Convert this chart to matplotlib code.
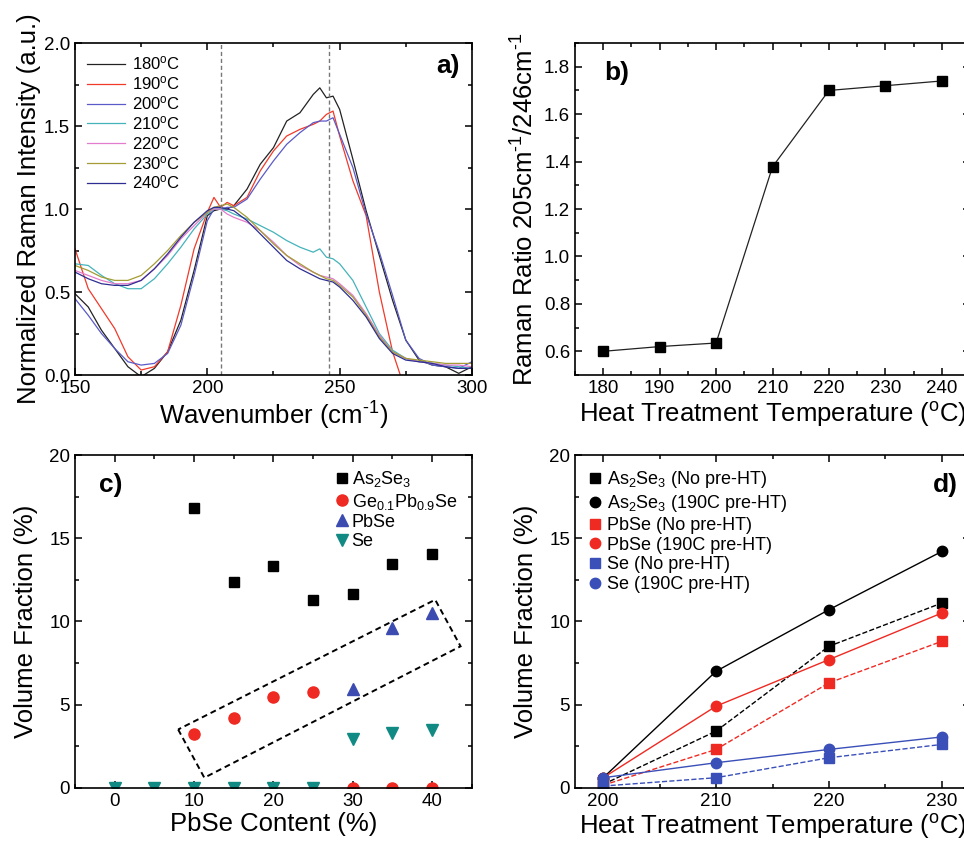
import numpy as np
import matplotlib
matplotlib.use("Agg")
import matplotlib.pyplot as plt
from matplotlib.ticker import MultipleLocator, FormatStrFormatter
from matplotlib.lines import Line2D
from matplotlib.patches import Polygon

plt.rcParams["font.family"] = ["Liberation Sans", "DejaVu Sans"]
plt.rcParams["mathtext.fontset"] = "custom"
plt.rcParams["mathtext.rm"] = "Liberation Sans"
plt.rcParams["mathtext.it"] = "Liberation Sans:italic"

DEG = r"$^{\mathregular{o}}$"
INV_CM = r"cm$^{\text{-1}}$"

# ---- panel a: Raman spectra ----
wavenumber = [150, 155, 160, 165, 170, 175, 180, 185, 190, 195, 200, 202.5,
              205, 207.5, 210, 215, 220, 225, 230, 235, 240, 242.5, 245, 247.5,
              250, 255, 260, 265, 270, 275, 280, 285, 290, 295, 300]
spec_180 = [0.49, 0.41, 0.27, 0.16, 0.05, -0.01, 0.04, 0.14, 0.33, 0.63, 0.96, 0.99,
            1.00, 1.00, 1.02, 1.12, 1.27, 1.37, 1.53, 1.58, 1.69, 1.73, 1.67, 1.68,
            1.60, 1.30, 0.99, 0.72, 0.45, 0.21, 0.09, 0.06, 0.05, 0.01, 0.05]
spec_190 = [0.76, 0.52, 0.40, 0.28, 0.11, 0.03, 0.05, 0.14, 0.42, 0.76, 0.98, 1.07,
            1.01, 1.04, 1.02, 1.07, 1.23, 1.35, 1.44, 1.48, 1.51, 1.53, 1.57, 1.59,
            1.44, 1.17, 0.96, 0.50, 0.14, -0.10, np.nan, np.nan, np.nan, np.nan, np.nan]
spec_200 = [0.46, 0.36, 0.25, 0.16, 0.08, 0.06, 0.07, 0.13, 0.30, 0.60, 0.93, 1.00,
            1.00, 1.01, 1.01, 1.06, 1.18, 1.29, 1.39, 1.46, 1.52, 1.53, 1.53, 1.55,
            1.45, 1.25, 0.97, 0.74, 0.48, 0.21, 0.10, 0.06, 0.05, 0.04, 0.08]
spec_210 = [0.67, 0.66, 0.60, 0.55, 0.52, 0.52, 0.58, 0.67, 0.77, 0.88, 0.97, 1.00,
            1.00, 0.99, 0.97, 0.94, 0.90, 0.86, 0.81, 0.77, 0.74, 0.76, 0.71, 0.70,
            0.67, 0.57, 0.41, 0.25, 0.15, 0.10, 0.08, 0.07, 0.06, 0.05, 0.04]
spec_220 = [0.63, 0.60, 0.57, 0.55, 0.55, 0.57, 0.64, 0.72, 0.82, 0.90, 0.98, 1.00,
            1.00, 0.97, 0.95, 0.92, 0.87, 0.80, 0.72, 0.66, 0.62, 0.60, 0.59, 0.58,
            0.55, 0.48, 0.37, 0.24, 0.14, 0.10, 0.08, 0.07, 0.06, 0.06, 0.05]
spec_230 = [0.66, 0.63, 0.59, 0.57, 0.57, 0.60, 0.67, 0.75, 0.84, 0.92, 0.98, 1.01,
            1.02, 1.03, 1.01, 0.95, 0.87, 0.79, 0.72, 0.67, 0.62, 0.60, 0.58, 0.57,
            0.54, 0.47, 0.36, 0.23, 0.14, 0.10, 0.09, 0.08, 0.07, 0.07, 0.07]
spec_240 = [0.62, 0.58, 0.55, 0.54, 0.54, 0.57, 0.64, 0.73, 0.83, 0.92, 0.99, 1.01,
            1.01, 1.00, 0.99, 0.93, 0.85, 0.77, 0.69, 0.64, 0.60, 0.58, 0.57, 0.56,
            0.53, 0.45, 0.35, 0.22, 0.13, 0.09, 0.08, 0.07, 0.05, 0.04, 0.04]
spec_labels = ["180", "190", "200", "210", "220", "230", "240"]
spec_colors = ["#222222", "#f03a2a", "#5a5ac8", "#45b3bb", "#e27ccc", "#a49c34", "#2e2e92"]
marker_lines = [205, 246]

# ---- panel b: Raman ratio ----
ratio_temp = [180, 190, 200, 210, 220, 230, 240]
ratio_val = [0.60, 0.62, 0.635, 1.378, 1.70, 1.72, 1.74]

# ---- panel c: volume fraction vs PbSe content ----
as2se3_x = [10, 15, 20, 25, 30, 35, 40]
as2se3_y = [16.8, 12.35, 13.35, 11.3, 11.65, 13.45, 14.05]
gepbse_x = [10, 15, 20, 25, 30, 35, 40]
gepbse_y = [3.25, 4.2, 5.45, 5.75, 0, 0, 0]
pbse_x = [0, 5, 10, 15, 20, 25, 30, 35, 40]
pbse_y = [0, 0, 0, 0, 0, 0, 5.95, 9.6, 10.5]
se_x = [0, 5, 10, 15, 20, 25, 30, 35, 40]
se_y = [0, 0, 0, 0, 0, 0, 2.9, 3.3, 3.45]
box_corners = [(8.0, 3.5), (11.3, 0.6), (43.6, 8.5), (40.4, 11.3)]

# ---- panel d: volume fraction vs heat treatment ----
ht_temp = [200, 210, 220, 230]
as2se3_nopre = [0.2, 3.4, 8.5, 11.1]
as2se3_pre = [0.6, 7.0, 10.7, 14.2]
pbse_nopre = [0.15, 2.3, 6.3, 8.8]
pbse_pre = [0.6, 4.9, 7.7, 10.5]
se_nopre = [0.1, 0.6, 1.8, 2.6]
se_pre = [0.6, 1.5, 2.3, 3.05]

TICK = 13.5
LABEL = 18.5


def style(ax, xmaj, xmin, ymaj, ymin):
    ax.xaxis.set_major_locator(MultipleLocator(xmaj))
    ax.xaxis.set_minor_locator(MultipleLocator(xmin))
    ax.yaxis.set_major_locator(MultipleLocator(ymaj))
    ax.yaxis.set_minor_locator(MultipleLocator(ymin))
    ax.tick_params(which="both", direction="in", top=True, right=True,
                   width=1.1, labelsize=TICK)
    ax.tick_params(which="major", length=5)
    ax.tick_params(which="minor", length=3)
    for s in ax.spines.values():
        s.set_linewidth(1.2)


fig = plt.figure(figsize=(9.64, 8.42), dpi=100)

# a)
ax = fig.add_axes([0.0778, 0.5546, 0.4118, 0.3943])
specs = [spec_180, spec_190, spec_200, spec_210, spec_220, spec_230, spec_240]
for s, lab, c in zip(specs, spec_labels, spec_colors):
    ax.plot(wavenumber, s, color=c, lw=0.9, label=lab + DEG + "C")
for w in marker_lines:
    ax.axvline(w, color="#777777", ls="--", lw=1.0, dashes=(3, 2))
ax.set_xlim(150, 300)
ax.set_ylim(0, 2.0)
style(ax, 50, 25, 0.5, 0.25)
ax.yaxis.set_major_formatter(FormatStrFormatter("%.1f"))
ax.set_xlabel("Wavenumber (" + INV_CM + ")", fontsize=LABEL, labelpad=2)
ax.set_ylabel("Normalized Raman Intensity (a.u.)", fontsize=LABEL, labelpad=2)
ax.legend(loc="upper left", frameon=False, fontsize=12, handlelength=2.3,
          labelspacing=0.11, borderaxespad=0.3, handletextpad=0.45)
ax.text(0.97, 0.93, "a)", transform=ax.transAxes, fontsize=19,
        fontweight="bold", ha="right", va="center")

# b)
ax = fig.add_axes([0.5965, 0.5546, 0.4097, 0.3943])
ax.plot(ratio_temp, ratio_val, color="#222222", lw=0.9, marker="s", ms=7,
        mfc="black", mec="black")
ax.set_xlim(175, 245)
ax.set_ylim(0.5, 1.9)
style(ax, 10, 5, 0.2, 0.1)
ax.set_xlabel("Heat Treatment Temperature (" + DEG + "C)", fontsize=LABEL, labelpad=2)
ax.set_ylabel("Raman Ratio 205" + INV_CM + "/246" + INV_CM, fontsize=LABEL, labelpad=4)
ax.text(0.075, 0.91, "b)", transform=ax.transAxes, fontsize=19,
        fontweight="bold", ha="left", va="center")

# c)
ax = fig.add_axes([0.0778, 0.0645, 0.4115, 0.3951])
ax.plot(as2se3_x, as2se3_y, ls="none", marker="s", ms=7, color="black",
        label=r"As$_\mathregular{2}$Se$_\mathregular{3}$")
ax.plot(gepbse_x, gepbse_y, ls="none", marker="o", ms=8, color="#ee2a22",
        label=r"Ge$_\mathregular{0.1}$Pb$_\mathregular{0.9}$Se")
ax.plot(pbse_x, pbse_y, ls="none", marker="^", ms=8, color="#3c4bb0",
        label="PbSe")
ax.plot(se_x, se_y, ls="none", marker="v", ms=8, color="#118a84", label="Se")
ax.add_patch(Polygon(box_corners, closed=True, fill=False, ec="black",
                     lw=1.4, ls=(0, (3, 2))))
ax.set_xlim(-5, 45)
ax.set_ylim(0, 20)
style(ax, 10, 5, 5, 2.5)
ax.set_xlabel("PbSe Content (%)", fontsize=LABEL, labelpad=2)
ax.set_ylabel("Volume Fraction (%)", fontsize=LABEL, labelpad=8)
ax.legend(loc="upper right", frameon=False, fontsize=13, handlelength=0.5,
          labelspacing=0.12, borderaxespad=0.4, handletextpad=0.3)
ax.text(0.06, 0.91, "c)", transform=ax.transAxes, fontsize=19,
        fontweight="bold", ha="left", va="center")

# d)
ax = fig.add_axes([0.5965, 0.0645, 0.4097, 0.3951])
blk, red, blu = "black", "#ee2a22", "#3a4fb8"
ax.plot(ht_temp, as2se3_nopre, color=blk, ls="--", lw=1.0, marker="s", ms=6.5)
ax.plot(ht_temp, as2se3_pre, color=blk, ls="-", lw=1.0, marker="o", ms=7.5)
ax.plot(ht_temp, pbse_nopre, color=red, ls="--", lw=1.0, marker="s", ms=6.5)
ax.plot(ht_temp, pbse_pre, color=red, ls="-", lw=1.0, marker="o", ms=7.5)
ax.plot(ht_temp, se_nopre, color=blu, ls="--", lw=1.0, marker="s", ms=6.5)
ax.plot(ht_temp, se_pre, color=blu, ls="-", lw=1.0, marker="o", ms=7.5)
handles = [
    Line2D([], [], ls="none", marker="s", ms=6.5, color=blk),
    Line2D([], [], ls="none", marker="o", ms=7.5, color=blk),
    Line2D([], [], ls="none", marker="s", ms=6.5, color=red),
    Line2D([], [], ls="none", marker="o", ms=7.5, color=red),
    Line2D([], [], ls="none", marker="s", ms=6.5, color=blu),
    Line2D([], [], ls="none", marker="o", ms=7.5, color=blu),
]
labels = [
    r"As$_\mathregular{2}$Se$_\mathregular{3}$ (No pre-HT)",
    r"As$_\mathregular{2}$Se$_\mathregular{3}$ (190C pre-HT)",
    "PbSe (No pre-HT)",
    "PbSe (190C pre-HT)",
    "Se (No pre-HT)",
    "Se (190C pre-HT)",
]
ax.legend(handles, labels, loc="upper left", frameon=False, fontsize=13,
          handlelength=0.6, labelspacing=0.15, borderaxespad=0.4,
          handletextpad=0.35)
ax.set_xlim(197.5, 232.5)
ax.set_ylim(0, 20)
style(ax, 10, 5, 5, 2.5)
ax.set_xlabel("Heat Treatment Temperature (" + DEG + "C)", fontsize=LABEL, labelpad=2)
ax.set_ylabel("Volume Fraction (%)", fontsize=LABEL, labelpad=8)
ax.text(0.97, 0.91, "d)", transform=ax.transAxes, fontsize=19,
        fontweight="bold", ha="right", va="center")

fig.savefig("out.png", dpi=100)
